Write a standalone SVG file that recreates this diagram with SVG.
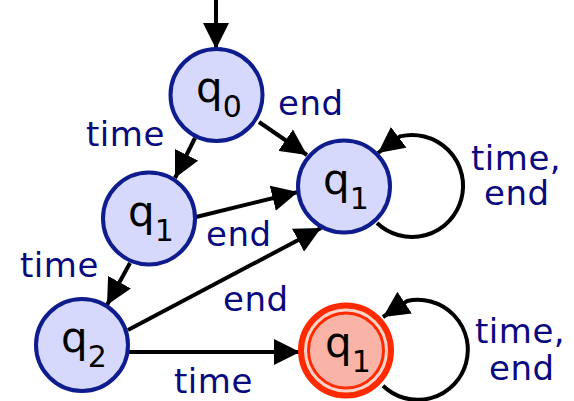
<svg xmlns="http://www.w3.org/2000/svg" width="574" height="401" viewBox="0 0 574 401">
<defs>
<style>
.node{fill:#d6d9fb;stroke:#0f1c8e;stroke-width:4}
.acc-out{fill:#fdd3ca;stroke:#ff2a00;stroke-width:6}
.acc-in{fill:#f9b4a7;stroke:#ff2a00;stroke-width:3}
.q{font-family:"DejaVu Sans",sans-serif;font-size:42px;fill:#000;text-anchor:middle}
.sub{font-size:30px}
.lbl{font-family:"DejaVu Sans",sans-serif;font-size:34px;fill:#0a0a7f;letter-spacing:0.5px}
.edge{fill:none;stroke:#000;stroke-width:4;marker-end:url(#arr)}
</style>
<marker id="arr" viewBox="0 0 26 26" refX="26" refY="13" markerWidth="26" markerHeight="26" markerUnits="userSpaceOnUse" orient="auto">
<path d="M0,0 L26,13 L0,26 z" fill="#000"/>
</marker>
</defs>
<g id="connectors">
<path class="edge" d="M216,0 L216,49"/>
<path class="edge" d="M195,138 L175,178"/>
<path class="edge" d="M259,122 L307,155"/>
<path class="edge" d="M196,217 L298,192"/>
<path class="edge" d="M130,263 L107,305"/>
<path class="edge" d="M128,330 L321,228"/>
<path class="edge" d="M129,352 L300,352"/>
<path class="edge" d="M377,223 A51,51 0 1 0 400,136.4 L378,153"/>
<path class="edge" d="M383,385.7 A50,50 0 1 0 407,301 L383,317"/>
</g>
<g id="q0">
<circle class="node" cx="216.5" cy="95" r="46"/>
<text class="q" x="219" y="102">q<tspan class="sub" dy="15">0</tspan></text>
</g>
<g id="q1a">
<circle class="node" cx="149" cy="218.5" r="46"/>
<text class="q" x="151" y="226">q<tspan class="sub" dy="15">1</tspan></text>
</g>
<g id="q1b">
<circle class="node" cx="344" cy="186.5" r="46"/>
<text class="q" x="346" y="194">q<tspan class="sub" dy="15">1</tspan></text>
</g>
<g id="q2">
<circle class="node" cx="82" cy="345" r="46"/>
<text class="q" x="84" y="352">q<tspan class="sub" dy="15">2</tspan></text>
</g>
<g id="q1f">
<circle class="acc-out" cx="346" cy="350.5" r="45"/>
<circle class="acc-in" cx="346" cy="350.5" r="37.5"/>
<text class="q" x="348" y="357">q<tspan class="sub" dy="15">1</tspan></text>
</g>
<g id="labels">
<text class="lbl" x="278" y="115">end</text>
<text class="lbl" x="86" y="146">time</text>
<text class="lbl" x="206" y="246">end</text>
<text class="lbl" x="20" y="277">time</text>
<text class="lbl" x="223" y="311">end</text>
<text class="lbl" x="174" y="393">time</text>
<text class="lbl" x="471" y="170">time,</text>
<text class="lbl" x="484" y="205">end</text>
<text class="lbl" x="475" y="343">time,</text>
<text class="lbl" x="489" y="380">end</text>
</g>
</svg>
